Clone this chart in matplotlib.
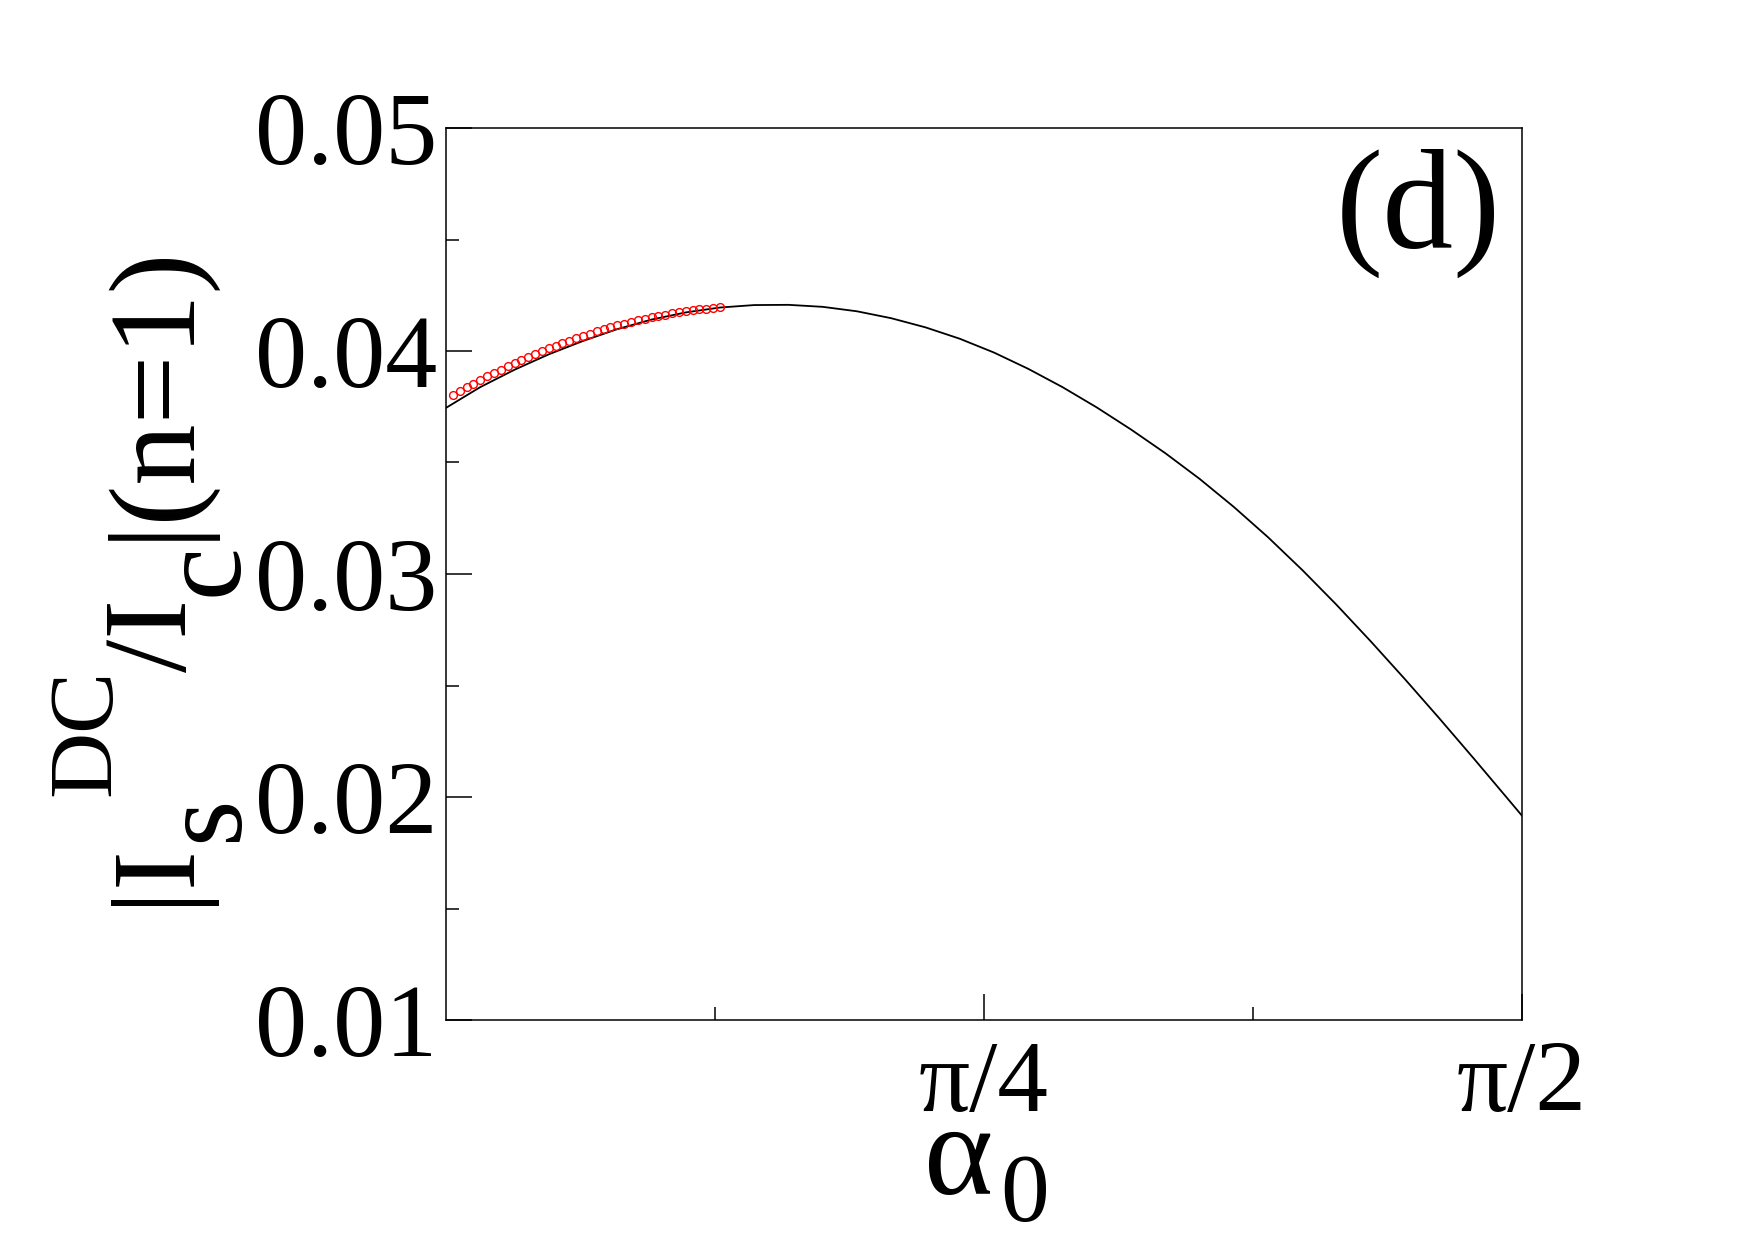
import numpy as np
import matplotlib
matplotlib.use("Agg")
import matplotlib.pyplot as plt

plt.rcParams['font.family'] = ['Liberation Serif', 'DejaVu Serif']

# ---- data ----
curve_x = [0.00, 0.05, 0.10, 0.15, 0.20, 0.25, 0.30, 0.35, 0.40, 0.45,
           0.50, 0.55, 0.60, 0.65, 0.70, 0.75, 0.80, 0.85, 0.90, 0.95,
           1.00, 1.05, 1.10, 1.15, 1.20, 1.25, 1.30, 1.35, 1.40, 1.45,
           1.50, 1.55, np.pi / 2]
curve_y = [0.03745, 0.03838, 0.03916, 0.03985, 0.04045, 0.04098, 0.04141,
           0.04173, 0.04195, 0.04206, 0.04207, 0.04198, 0.04178, 0.04147,
           0.04106, 0.04055, 0.03993, 0.03920, 0.03838, 0.03747, 0.03648,
           0.03542, 0.03427, 0.03301, 0.03165, 0.03018, 0.02862, 0.02698,
           0.02528, 0.02353, 0.02174, 0.01992, 0.01916]

circ_x = [0.01, 0.02, 0.03, 0.04, 0.05, 0.06, 0.07, 0.08, 0.09, 0.10,
          0.11, 0.12, 0.13, 0.14, 0.15, 0.16, 0.17, 0.18, 0.19, 0.20,
          0.21, 0.22, 0.23, 0.24, 0.25, 0.26, 0.27, 0.28, 0.29, 0.30,
          0.31, 0.32, 0.33, 0.34, 0.35, 0.36, 0.37, 0.38, 0.39, 0.40]
circ_y = [0.03802, 0.03820, 0.03837, 0.03853, 0.03870, 0.03886, 0.03901,
          0.03916, 0.03931, 0.03946, 0.03960, 0.03973, 0.03986, 0.03999,
          0.04012, 0.04024, 0.04035, 0.04047, 0.04057, 0.04068, 0.04078,
          0.04088, 0.04097, 0.04106, 0.04115, 0.04123, 0.04130, 0.04138,
          0.04145, 0.04151, 0.04158, 0.04163, 0.04169, 0.04174, 0.04179,
          0.04183, 0.04187, 0.04190, 0.04193, 0.04196]

xtick_pos = [np.pi / 4, np.pi / 2]
xtick_labels = ['π/4', 'π/2']
xminor_pos = [np.pi / 8, 3 * np.pi / 8]
ytick_pos = [0.01, 0.02, 0.03, 0.04, 0.05]
ytick_labels = ['0.01', '0.02', '0.03', '0.04', '0.05']
yminor_pos = [0.015, 0.025, 0.035, 0.045]

W, H = 1755, 1240
fig = plt.figure(figsize=(W / 100, H / 100), dpi=100)
ax = fig.add_axes([446 / W, 1 - 1020 / H, 1076 / W, 892 / H])

ax.plot(curve_x, curve_y, color='black', lw=1.3)
ax.plot(circ_x, circ_y, linestyle='none', marker='o', markersize=5.6,
        markerfacecolor='none', markeredgecolor='red', markeredgewidth=1.0)

ax.set_xlim(0, np.pi / 2)
ax.set_ylim(0.01, 0.05)
ax.set_xticks(xtick_pos)
ax.set_xticklabels(xtick_labels)
ax.set_xticks(xminor_pos, minor=True)
ax.set_yticks(ytick_pos)
ax.set_yticklabels(ytick_labels)
ax.set_yticks(yminor_pos, minor=True)

for s in ax.spines.values():
    s.set_linewidth(1.1)

ax.tick_params(which='both', direction='in', top=False, right=False)
ax.tick_params(which='major', length=18.5, width=1.1)
ax.tick_params(which='minor', length=9.3, width=1.1)
ax.tick_params(axis='y', which='major', labelsize=75, pad=6)
ax.tick_params(axis='x', which='major', labelsize=73, pad=15)


def ftext(x, y, s, size, **kw):
    fig.text(x / W, 1 - y / H, s, fontsize=size, **kw)


# y label pieces (rotated, baseline x, start y in pixel coords from top)
rot = dict(rotation=90, rotation_mode='anchor', ha='left', va='baseline')
ftext(186, 905, '|I', 86, **rot)
ftext(237, 842, 's', 86, **rot)
ftext(110, 796, 'DC', 66, **rot)
ftext(186, 672, '/I', 86, **rot)
ftext(237, 596, 'c', 86, **rot)
ftext(186, 540, '|(n=1)', 88, **rot)

# x label
ftext(924, 1194, 'α', 95, ha='left', va='baseline')
ftext(1000, 1221, '0', 70, ha='left', va='baseline')

# panel label
ftext(1336, 248, '(d)', 102, ha='left', va='baseline')

fig.savefig('out.png', dpi=100)
